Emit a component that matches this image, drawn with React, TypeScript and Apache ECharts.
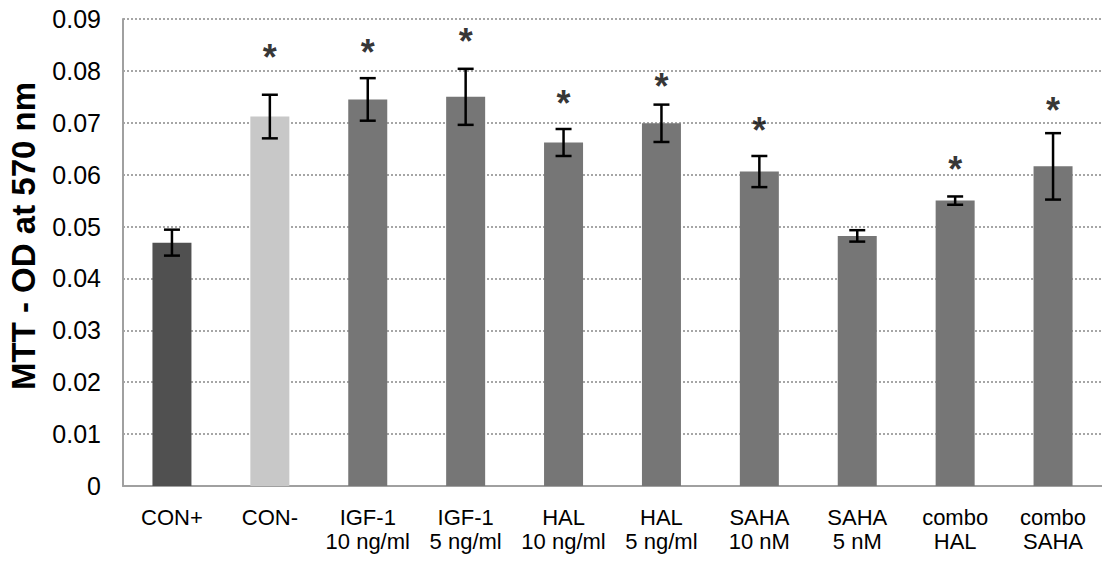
import React, { useEffect, useRef } from "react";
import * as echarts from "echarts";

const categories = [
  "CON+",
  "CON-",
  "IGF-1\n10 ng/ml",
  "IGF-1\n5 ng/ml",
  "HAL\n10 ng/ml",
  "HAL\n5 ng/ml",
  "SAHA\n10 nM",
  "SAHA\n5 nM",
  "combo\nHAL",
  "combo\nSAHA",
];
const means = [0.0469, 0.0712, 0.0745, 0.075, 0.0662, 0.0699, 0.0606, 0.0482, 0.055, 0.0616];
const errors = [0.0025, 0.0042, 0.0041, 0.0054, 0.0026, 0.0036, 0.003, 0.0011, 0.0008, 0.0064];
const starValues = [null, 0.0834, 0.0844, 0.0865, 0.0744, 0.0778, 0.0692, null, 0.0618, 0.0732];
const barColors = ["#505050", "#c8c8c8", "#767676", "#767676", "#767676", "#767676", "#767676", "#767676", "#767676", "#767676"];
const yTicks = [0, 0.01, 0.02, 0.03, 0.04, 0.05, 0.06, 0.07, 0.08, 0.09];
const yTitle = "MTT - OD at 570 nm";

export default function App() {
  const ref = useRef<HTMLDivElement>(null);
  useEffect(() => {
    if (!ref.current) return;
    const chart = echarts.init(ref.current, null, { renderer: "svg" });
    const font = "Liberation Sans, Arial, sans-serif";
    chart.setOption({
      animation: false,
      grid: { left: 123, right: 0, top: 19, bottom: 75, containLabel: false },
      graphic: [
        {
          type: "text",
          x: 23,
          y: 236,
          rotation: Math.PI / 2,
          style: {
            text: yTitle,
            fill: "#000",
            font: "bold 33px Liberation Sans, Arial, sans-serif",
            textAlign: "center",
            textVerticalAlign: "middle",
          },
        },
      ],
      xAxis: {
        type: "category",
        data: categories,
        axisLine: { show: true, lineStyle: { color: "#a0a0a0", width: 2 } },
        axisTick: { show: false },
        axisLabel: {
          color: "#000",
          fontFamily: font,
          fontSize: 22,
          lineHeight: 24,
          margin: 19,
          interval: 0,
        },
      },
      yAxis: {
        type: "value",
        min: 0,
        max: 0.09,
        interval: 0.01,
        axisLine: { show: true, lineStyle: { color: "#a0a0a0", width: 2 } },
        axisTick: { show: false },
        axisLabel: {
          color: "#000",
          fontFamily: font,
          fontSize: 25,
          margin: 22,
          formatter: (v: number) => {
            const t = yTicks.find((x) => Math.abs(x - v) < 1e-9);
            return t === 0 ? "0" : (t ?? v).toFixed(2);
          },
        },
        splitLine: { show: true, lineStyle: { color: "#a6a6a6", width: 2, type: [2, 2] } },
      },
      series: [
        {
          type: "bar",
          data: means.map((v, i) => ({ value: v, itemStyle: { color: barColors[i] } })),
          barWidth: 39,
        },
        {
          type: "custom",
          data: means.map((v, i) => [i, v - errors[i], v + errors[i]]),
          renderItem: (params: any, api: any) => {
            const x = api.value(0);
            const lo = api.coord([x, api.value(1)]);
            const hi = api.coord([x, api.value(2)]);
            const w = 8;
            const style = { stroke: "#000", lineWidth: 2.5 };
            return {
              type: "group",
              children: [
                { type: "line", shape: { x1: lo[0], y1: lo[1], x2: hi[0], y2: hi[1] }, style },
                { type: "line", shape: { x1: lo[0] - w, y1: lo[1], x2: lo[0] + w, y2: lo[1] }, style },
                { type: "line", shape: { x1: hi[0] - w, y1: hi[1], x2: hi[0] + w, y2: hi[1] }, style },
              ],
            };
          },
          z: 5,
        },
        {
          type: "scatter",
          data: starValues.map((v, i) => (v === null ? [i, null] : [i, v])),
          symbolSize: 0,
          itemStyle: { color: "#000" },
          label: {
            show: true,
            position: "inside",
            formatter: "*",
            color: "#000",
            fontFamily: font,
            fontSize: 36,
            fontWeight: "bold",
            offset: [0, 4],
          },
          z: 6,
        },
      ],
    });
    return () => chart.dispose();
  }, []);
  return (
    <div
      ref={ref}
      style={{ position: "fixed", left: 0, top: 0, width: 1102, height: 561, background: "#fff" }}
    />
  );
}
